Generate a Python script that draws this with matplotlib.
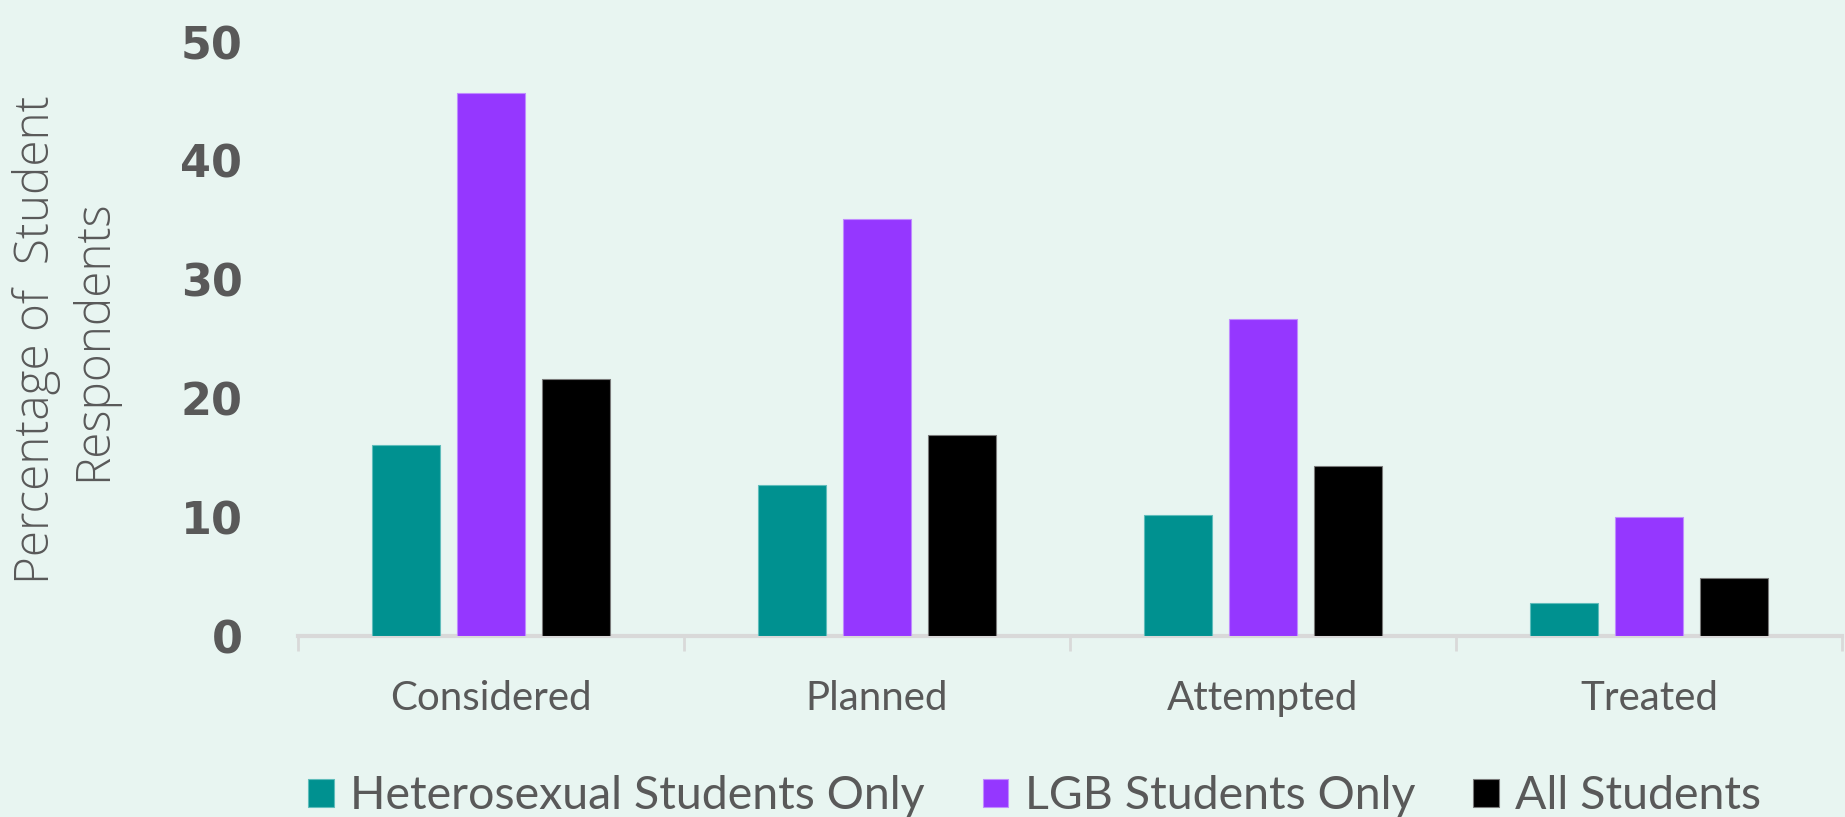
import matplotlib
matplotlib.use("Agg")
import matplotlib.pyplot as plt
from matplotlib.patches import Patch
import numpy as np

# Survey results: share of students reporting each outcome (%)
categories = ["Considered", "Planned", "Attempted", "Treated"]
series_names = ["Heterosexual Students Only", "LGB Students Only", "All Students"]
hetero = [16.1, 12.7, 10.2, 2.8]
lgb = [45.7, 35.1, 26.7, 10.0]
all_students = [21.6, 16.9, 14.3, 4.9]
y_ticks = [0, 10, 20, 30, 40, 50]

colors = ["#009190", "#9537FF", "#000000"]
edge_colors = ["#5fbdbb", "#c08cff", "#7a7a7a"]
bg = "#E8F5F1"
text_grey = "#595959"
axis_grey = "#D9D9D9"

W, H, DPI = 1845, 817, 100
fig = plt.figure(figsize=(W / DPI, H / DPI), dpi=DPI, facecolor=bg)

# plot area in pixel coordinates
left_px, right_px, top_px, bottom_px = 298, 1842, 42, 636
ax = fig.add_axes([left_px / W, 1 - bottom_px / H,
                   (right_px - left_px) / W, (bottom_px - top_px) / H])
ax.set_facecolor(bg)

x = np.arange(len(categories))
bar_w = 0.176
step = 0.22
for i, vals in enumerate([hetero, lgb, all_students]):
    ax.bar(x + (i - 1) * step, vals, width=bar_w, color=colors[i],
           edgecolor=edge_colors[i], linewidth=0.8, label=series_names[i],
           zorder=2)

ax.set_xlim(-0.5, len(categories) - 0.5)
ax.set_ylim(0, 50)

for s in ["top", "right", "left"]:
    ax.spines[s].set_visible(False)
ax.spines["bottom"].set_color(axis_grey)
ax.spines["bottom"].set_linewidth(3)
ax.spines["bottom"].set_zorder(1)

# y axis: bold numbers, no tick marks
ax.set_yticks(y_ticks)
ax.set_yticklabels([str(v) for v in y_ticks], fontfamily="DejaVu Sans",
                   fontweight="bold", fontsize=32, color=text_grey)
ax.tick_params(axis="y", length=0, pad=40)

# x axis: category names centered, separators between groups
ax.set_xticks(x)
ax.set_xticklabels(categories, fontfamily="Lato", fontsize=29, color=text_grey)
ax.tick_params(axis="x", which="major", length=0, pad=32)
ax.set_xticks(np.arange(-0.5, len(categories), 1.0), minor=True)
ax.tick_params(axis="x", which="minor", length=11, width=2, color=axis_grey,
               direction="out")

fig.text(65 / W, 1 - 340 / H, "Percentage of  Student\nRespondents",
         rotation=90, ha="center", va="center", fontfamily="Open Sans",
         fontweight="light", fontsize=34.3, color=text_grey, linespacing=1.2)

handles = [Patch(facecolor=c, edgecolor=e, linewidth=0.8)
           for c, e in zip(colors, edge_colors)]
leg = fig.legend(handles, series_names, loc="center left",
                 bbox_to_anchor=(308 / W, 1 - 796 / H), ncol=3,
                 frameon=False, borderpad=0, borderaxespad=0,
                 handlelength=0.55, handleheight=0.55, handletextpad=0.35,
                 columnspacing=1.25,
                 prop={"family": "Lato", "size": 33.5})
for t in leg.get_texts():
    t.set_color(text_grey)

fig.savefig("out.png", dpi=DPI, facecolor=bg)
